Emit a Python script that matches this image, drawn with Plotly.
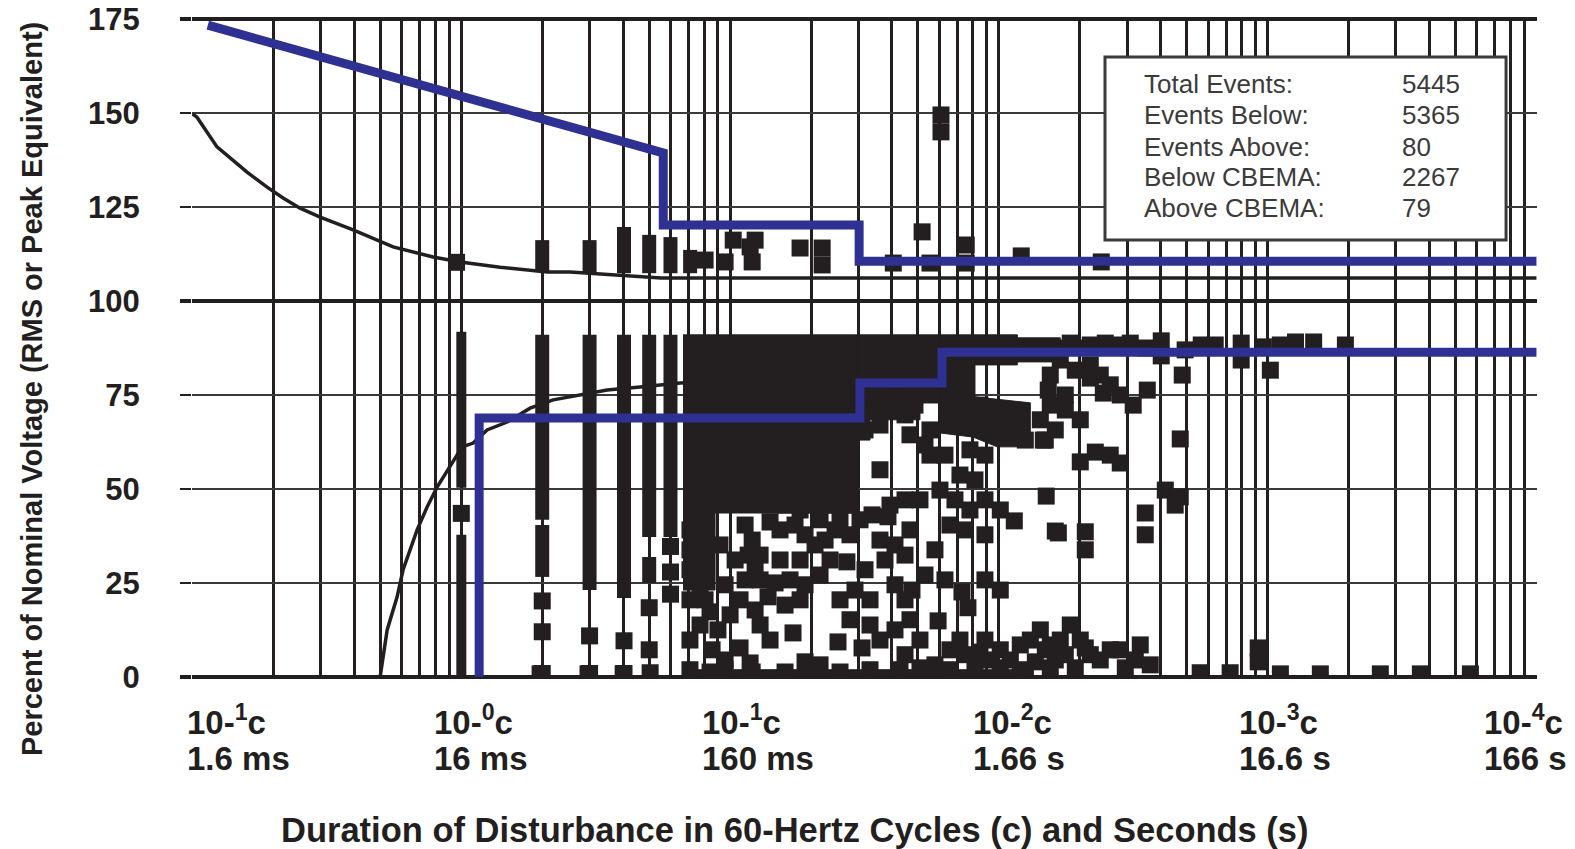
import math
import plotly.graph_objects as go

# ---------------- data ----------------
decade_vals = [0.1, 1, 10, 100, 1000, 10000]
decade_cycle_text = ["10-<sup>1</sup>c", "10-<sup>0</sup>c", "10-<sup>1</sup>c",
                     "10-<sup>2</sup>c", "10-<sup>3</sup>c", "10-<sup>4</sup>c"]
decade_time_text = ["1.6 ms", "16 ms", "160 ms", "1.66 s", "16.6 s", "166 s"]
y_ticks = [0, 25, 50, 75, 100, 125, 150, 175]
y_major = [0, 100, 175]

# CBEMA envelope (blue)
cbema_upper_x = [0.114, 5.64, 5.64, 30.2, 30.2, 10000]
cbema_upper_y = [173.4, 139.4, 120.2, 120.2, 110.6, 110.6]
cbema_lower_x = [1.165, 1.165, 30.4, 30.4, 61.4, 61.4, 10000]
cbema_lower_y = [0, 68.9, 68.9, 78.2, 78.2, 86.4, 86.4]

# thin black susceptibility curves
curve_upper_x = [0.1, 0.1039, 0.1233, 0.1415, 0.1595, 0.1894, 0.2172, 0.2512, 0.2983,
                 0.3957, 0.5574, 0.7852, 0.9897, 1.394, 2.085, 2.541, 5.541, 10, 10000]
curve_upper_y = [149.8, 148.9, 141.0, 137.5, 134.3, 130.3, 127.4, 124.7, 122.3,
                 118.9, 114.4, 111.7, 110.4, 109.0, 107.7, 107.7, 106.1, 106.1, 106.1]
curve_lower_x = [0.4988, 0.5297, 0.577, 0.6073, 0.6847, 0.746, 0.8128, 0.9087, 1.007,
                 1.107, 1.247, 1.481, 1.803, 2.196, 2.767, 3.488, 4.628, 6.521, 10]
curve_lower_y = [0, 12.5, 21.3, 28.5, 39.1, 45.2, 50.5, 55.9, 61.2,
                 62.2, 65.7, 67.8, 71.5, 73.7, 75.0, 76.3, 77.1, 78.2, 78.7]

# event columns at whole-cycle durations: (duration, low %, high %)
col1_x = [1.0, 1.0]
col1_lo = [50.3, 0.0]
col1_hi = [91.8, 37.8]
cols_x = [2.0, 2.0, 3.0, 4.03, 5.0, 5.0, 6.0, 2.0, 3.0, 4.03, 5.0, 6.0, 7.1]
cols_lo = [41.8, 26.6, 23.1, 21.0, 37.2, 25.0, 37.2, 107.7, 107.4, 107.4, 107.4, 107.4, 107.4]
cols_hi = [91.0, 40.4, 91.0, 91.0, 91.0, 31.9, 91.0, 116.2, 116.2, 119.7, 117.6, 117.0, 113.6]

# dense event masses (outlines)
dense_x = [6.68, 29.9, 29.9, 8.79, 8.79, 6.68, None,
           29.9, 60.36, 60.36, 50.86, 50.86, 33.15, 33.15, 29.9, None,
           60.36, 117.1, 117.1, 60.36, None,
           117.1, 169.2, 169.2, 117.1, None,
           60.36, 117.1, 117.1, 81.47, 81.47, 130.9, 130.9, 98.6, 80.1, 60.36, None,
           169.2, 300.3, 300.3, 169.2, None,
           6.68, 134.3, 134.3, 6.68]
dense_y = [91.0, 91.0, 43.6, 43.6, 23.1, 23.1, None,
           91.0, 91.0, 73.7, 73.7, 68.4, 68.4, 63.0, 63.0, None,
           91.0, 91.0, 86.4, 86.4, None,
           90.2, 90.2, 83.8, 83.8, None,
           87.0, 87.0, 83.0, 83.0, 74.5, 72.9, 61.2, 61.2, 63.8, 64.9, None,
           89.6, 89.6, 86.2, 86.2, None,
           1.9, 1.9, 0.0, 0.0]

# individual events (duration in cycles, % nominal)
event_x = [
    1.0, 2.0, 2.0, 2.0, 3.0, 3.0, 4.03, 4.03, 5.0, 5.0, 6.0, 6.0, 6.0,
    0.96, 10.27, 8.07, 9.58, 11.87, 12.08, 12.39, 18.21, 22.0, 22.0, 51.8, 60.9, 60.9,
    40.46, 55.41, 75.6, 75.6, 121.1, 240.4,
    7.09, 8.07, 7.09, 8.07, 7.09, 7.73, 7.09, 8.07, 8.42, 9.01, 10.89, 11.37, 12.08, 11.67, 12.39, 11.37,
    14.08, 16.01, 18.21, 14.08, 17.44, 20.7, 23.54, 26.76, 21.61, 25.64, 27.93, 22.56,
    12.93, 14.7, 16.71, 19.0, 13.84, 27.2, 17.14, 25.2, 30.96, 19.0, 21.61, 11.87,
    33.73, 38.67, 36.11, 41.06, 44.74, 37.69, 41.06, 47.5, 44.74, 57.83, 59.4, 72.88, 76.7,
    65.76, 74.78, 85.02, 92.62, 55.41, 65.76, 74.78, 68.64, 76.7, 65.76, 71.64, 85.02, 92.62,
    88.74, 105.6, 120.1, 110.3, 125.4, 146.3, 33.15, 37.69, 42.86, 48.73, 55.41, 44.74,
    55.41, 36.11, 114.1, 162.1, 130.9, 148.8, 136.6, 162.1,
    184.3, 218.8, 248.7, 282.8, 401.8, 566, 797, 797, 964, 1483, 1946, 1023,
    155.3, 218.8, 218.8, 152.6, 176.6, 155.3, 244.6, 316, 356.5, 481, 401.8,
    148.8, 472.8, 200.8, 228.4, 259.6, 282.8, 150, 416, 472.8, 452.8, 350.4, 350.4,
    166.4, 209.6, 209.6, 155.3, 176.6, 200.8, 218.8, 192.4, 155.3, 282.8, 321.7, 365.7, 295.3,
    922, 922, 561, 725, 1115, 1570, 2625, 3699, 5678,
    7.09, 8.42, 9.58, 12.08, 16.01, 20.17, 25.64, 33.15, 42.86, 50.86, 65.76, 81.47, 101.2, 120.1,
    1.964, 2.96, 4.0, 5.04,
    15.34, 19.0, 24.57, 30.43, 9.17, 10.44, 9.58, 12.93, 15.34, 18.21, 20.7,
    23.54, 21.61, 18.21, 16.01, 10.89, 12.39, 10.0, 7.73, 7.09, 8.57, 9.58, 14.08, 12.93,
    25.64, 29.15, 31.76, 33.15, 27.93, 33.15, 36.11, 41.06, 46.69, 50.86, 44.74, 57.83,
    71.64, 88.74, 101.2, 110.3, 120.1, 142.6, 169.2, 184.3, 209.6, 238.3, 259.6, 335.7,
    31.76, 36.11, 46.69, 53.09, 63.0, 78.04, 88.74, 71.64, 81.47, 60.36, 68.64, 78.04,
    88.74, 101.2, 50.86, 44.74, 39.34, 65.76, 74.78, 88.74, 46.69, 53.09, 63.0, 88.74, 101.2,
    308.1, 350.4, 493, 638, 1115, 1269,
    169.2, 192.4, 238.3, 259.6, 282.8, 176.6, 200.8, 142.6, 162.1,
]
event_y = [
    43.5, 20.2, 12.0, 0.9, 10.9, 0.9, 9.6, 0.9, 18.4, 7.2, 34.7, 27.9, 22.0,
    110.3, 116.2, 110.9, 110.4, 114.4, 110.4, 116.2, 114.1, 114.1, 109.6, 118.4, 149.5, 145.0,
    110.1, 110.1, 114.9, 110.1, 112.0, 110.4,
    39.1, 39.1, 33.8, 32.4, 28.5, 24.5, 20.5, 20.5, 17.3, 12.5, 7.7, 40.4, 36.4, 32.4, 28.5, 25.8,
    45.7, 45.7, 44.4, 41.2, 40.4, 45.7, 45.7, 45.7, 41.8, 41.8, 37.8, 36.4,
    25.8, 25.0, 25.8, 24.5, 21.3, 30.6, 11.7, 9.3, 7.7, 4.0, 3.2, 3.7,
    43.1, 42.6, 36.4, 35.1, 32.4, 31.1, 24.5, 23.1, 20.5, 33.8, 14.9, 22.6, 18.4,
    7.2, 5.9, 6.6, 4.5, 65.7, 80.3, 79.0, 75.0, 72.3, 69.7, 67.0, 72.3, 68.4,
    65.7, 71.0, 69.7, 65.7, 63.0, 63.0, 75.0, 73.7, 74.2, 72.3, 75.0, 69.7,
    59.0, 55.1, 41.5, 38.8, 9.8, 7.2, 4.0, 4.5,
    88.8, 88.3, 88.8, 88.3, 89.4, 88.3, 88.8, 84.3, 87.8, 89.1, 88.3, 81.6,
    80.3, 83.0, 79.5, 76.3, 75.0, 72.3, 75.5, 72.3, 76.3, 80.3, 85.4,
    63.0, 63.3, 57.2, 59.8, 59.0, 56.9, 48.1, 49.7, 47.9, 45.7, 43.6, 37.8,
    38.3, 38.6, 33.8, 8.5, 5.9, 9.8, 5.9, 2.4, 2.4, 7.2, 4.5, 3.2, 2.4,
    7.7, 4.0, 1.1, 1.1, 0.8, 0.8, 0.8, 0.8, 0.8,
    1.9, 1.3, 1.9, 1.3, 1.3, 2.4, 1.3, 1.9, 1.9, 2.4, 1.9, 2.4, 2.4, 1.9,
    0.8, 0.8, 0.8, 1.1,
    39.1, 37.8, 39.1, 41.8, 35.1, 31.1, 24.5, 32.4, 31.1, 31.1, 35.1,
    31.1, 27.1, 20.5, 19.1, 20.5, 17.8, 16.5, 13.8, 9.8, 7.2, 4.5, 9.8, 13.8,
    20.5, 23.1, 28.5, 20.5, 15.2, 13.8, 9.8, 12.5, 15.2, 9.8, 5.9, 3.2,
    9.8, 9.8, 7.2, 4.5, 8.5, 12.5, 9.8, 13.8, 7.7, 4.5, 7.2, 8.5,
    65.7, 67.0, 64.4, 61.7, 59.0, 60.4, 59.0, 53.7, 52.4, 49.7, 47.1, 44.4,
    47.1, 44.4, 47.1, 47.1, 45.7, 40.4, 39.1, 37.8, 39.1, 27.1, 25.8, 25.8, 23.1,
    88.8, 87.5, 87.0, 88.3, 88.3, 89.1,
    84.3, 81.6, 80.3, 77.7, 75.0, 71.0, 68.4, 68.4, 65.7,
]

# summary box
summary_labels = ["Total Events:", "Events Below:", "Events Above:", "Below CBEMA:", "Above CBEMA:"]
summary_values = ["5445", "5365", "80", "2267", "79"]

# ---------------- styling ----------------
INK = "#231f20"
BLUE = "#2e3192"
FONT = "Liberation Sans, Arial, Helvetica, sans-serif"


def segs(xs, lo, hi):
    sx, sy = [], []
    for x, a, b in zip(xs, lo, hi):
        sx += [x, x, None]
        sy += [a, b, None]
    return sx, sy


fig = go.Figure()

fig.add_trace(go.Scatter(x=[1], y=[50], yaxis="y2", mode="markers",
                         marker=dict(opacity=0), showlegend=False, hoverinfo="skip"))

fig.add_trace(go.Scatter(x=curve_upper_x, y=curve_upper_y, mode="lines",
                         line=dict(color=INK, width=3.5), showlegend=False))
fig.add_trace(go.Scatter(x=curve_lower_x, y=curve_lower_y, mode="lines",
                         line=dict(color=INK, width=3.5), showlegend=False))
fig.add_trace(go.Scatter(x=dense_x, y=dense_y, mode="lines", fill="toself",
                         fillcolor=INK, line=dict(color=INK, width=1), showlegend=False))
sx, sy = segs(col1_x, col1_lo, col1_hi)
fig.add_trace(go.Scatter(x=sx, y=sy, mode="lines", line=dict(color=INK, width=10),
                         showlegend=False))
sx, sy = segs(cols_x, cols_lo, cols_hi)
fig.add_trace(go.Scatter(x=sx, y=sy, mode="lines", line=dict(color=INK, width=14),
                         showlegend=False))
fig.add_trace(go.Scatter(x=event_x, y=event_y, mode="markers",
                         marker=dict(symbol="square", size=17, color=INK, line=dict(width=0)),
                         showlegend=False))

fig.add_trace(go.Scatter(x=cbema_upper_x, y=cbema_upper_y, mode="lines",
                         line=dict(color=BLUE, width=9), showlegend=False))
fig.add_trace(go.Scatter(x=cbema_lower_x, y=cbema_lower_y, mode="lines",
                         line=dict(color=BLUE, width=9), showlegend=False))

grid_vals = []
for d in decade_vals[:-1]:
    grid_vals += [d * k for k in range(1, 10)]
grid_vals.append(decade_vals[-1])

fig.update_layout(
    width=1575, height=849,
    margin=dict(l=192, r=38, t=18, b=171, autoexpand=False),
    paper_bgcolor="white", plot_bgcolor="white",
    showlegend=False,
    xaxis=dict(type="log", range=[-1.002, 4.002], tickmode="array", tickvals=grid_vals,
               showticklabels=False, ticks="", showgrid=True, gridcolor=INK, gridwidth=3,
               zeroline=False, showline=False, automargin=False),
    yaxis=dict(range=[-0.3, 175.3], tickmode="array", tickvals=y_ticks,
               ticktext=[str(v) for v in y_ticks], showgrid=True, gridcolor="#3a3a3a",
               gridwidth=2, zeroline=False, showline=False, ticks="outside", ticklen=11,
               tickwidth=2, tickcolor=INK, ticklabelstandoff=34, automargin=False,
               tickfont=dict(family=FONT, size=31, color=INK, weight="bold")),
    yaxis2=dict(range=[-0.3, 175.3], overlaying="y", side="left", tickmode="array",
                tickvals=y_major, showticklabels=False, showgrid=True, gridcolor=INK,
                gridwidth=4, zeroline=False, showline=False, ticks="outside", ticklen=11,
                tickwidth=4, tickcolor=INK, automargin=False),
)

# x-axis decade labels (two lines)
label_shift = [-8, -29, -30, -28, -31, -54]
for v, t1, t2, dx in zip(decade_vals, decade_cycle_text, decade_time_text, label_shift):
    lx = math.log10(v)
    fig.add_annotation(x=lx, xref="x", y=0, yref="paper", text=t1, showarrow=False,
                       xanchor="left", yanchor="middle", xshift=dx, yshift=-42,
                       font=dict(family=FONT, size=33, color=INK, weight="bold"))
    fig.add_annotation(x=lx, xref="x", y=0, yref="paper", text=t2, showarrow=False,
                       xanchor="left", yanchor="middle", xshift=dx, yshift=-80,
                       font=dict(family=FONT, size=33, color=INK, weight="bold"))

fig.add_annotation(x=0.4485, xref="paper", y=-0.2305, yref="paper",
                   text="Duration of Disturbance in 60-Hertz Cycles (c) and Seconds (s)",
                   showarrow=False, xanchor="center", yanchor="middle",
                   font=dict(family=FONT, size=34.5, color=INK, weight="bold"))
fig.add_annotation(x=-0.1189, xref="paper", y=0.4379, yref="paper",
                   text="Percent of Nominal Voltage (RMS or Peak Equivalent)",
                   textangle=-90, showarrow=False, xanchor="center", yanchor="middle",
                   font=dict(family=FONT, size=29, color=INK, weight="bold"))

# summary box
fig.add_shape(type="rect", xref="paper", yref="paper", x0=0.6788, x1=0.977, y0=0.6636, y1=0.941,
              line=dict(color="#3a3a3a", width=3), fillcolor="white", layer="above")
row_y = [0.8994, 0.8523, 0.805, 0.7594, 0.7121]
for lab, val, ry in zip(summary_labels, summary_values, row_y):
    fig.add_annotation(x=0.7063, xref="paper", y=ry, yref="paper", text=lab, showarrow=False,
                       xanchor="left", yanchor="middle",
                       font=dict(family=FONT, size=26, color="#3b3b3b"))
    fig.add_annotation(x=0.898, xref="paper", y=ry, yref="paper", text=val, showarrow=False,
                       xanchor="left", yanchor="middle",
                       font=dict(family=FONT, size=26, color="#3b3b3b"))

fig.write_html("out.html")
